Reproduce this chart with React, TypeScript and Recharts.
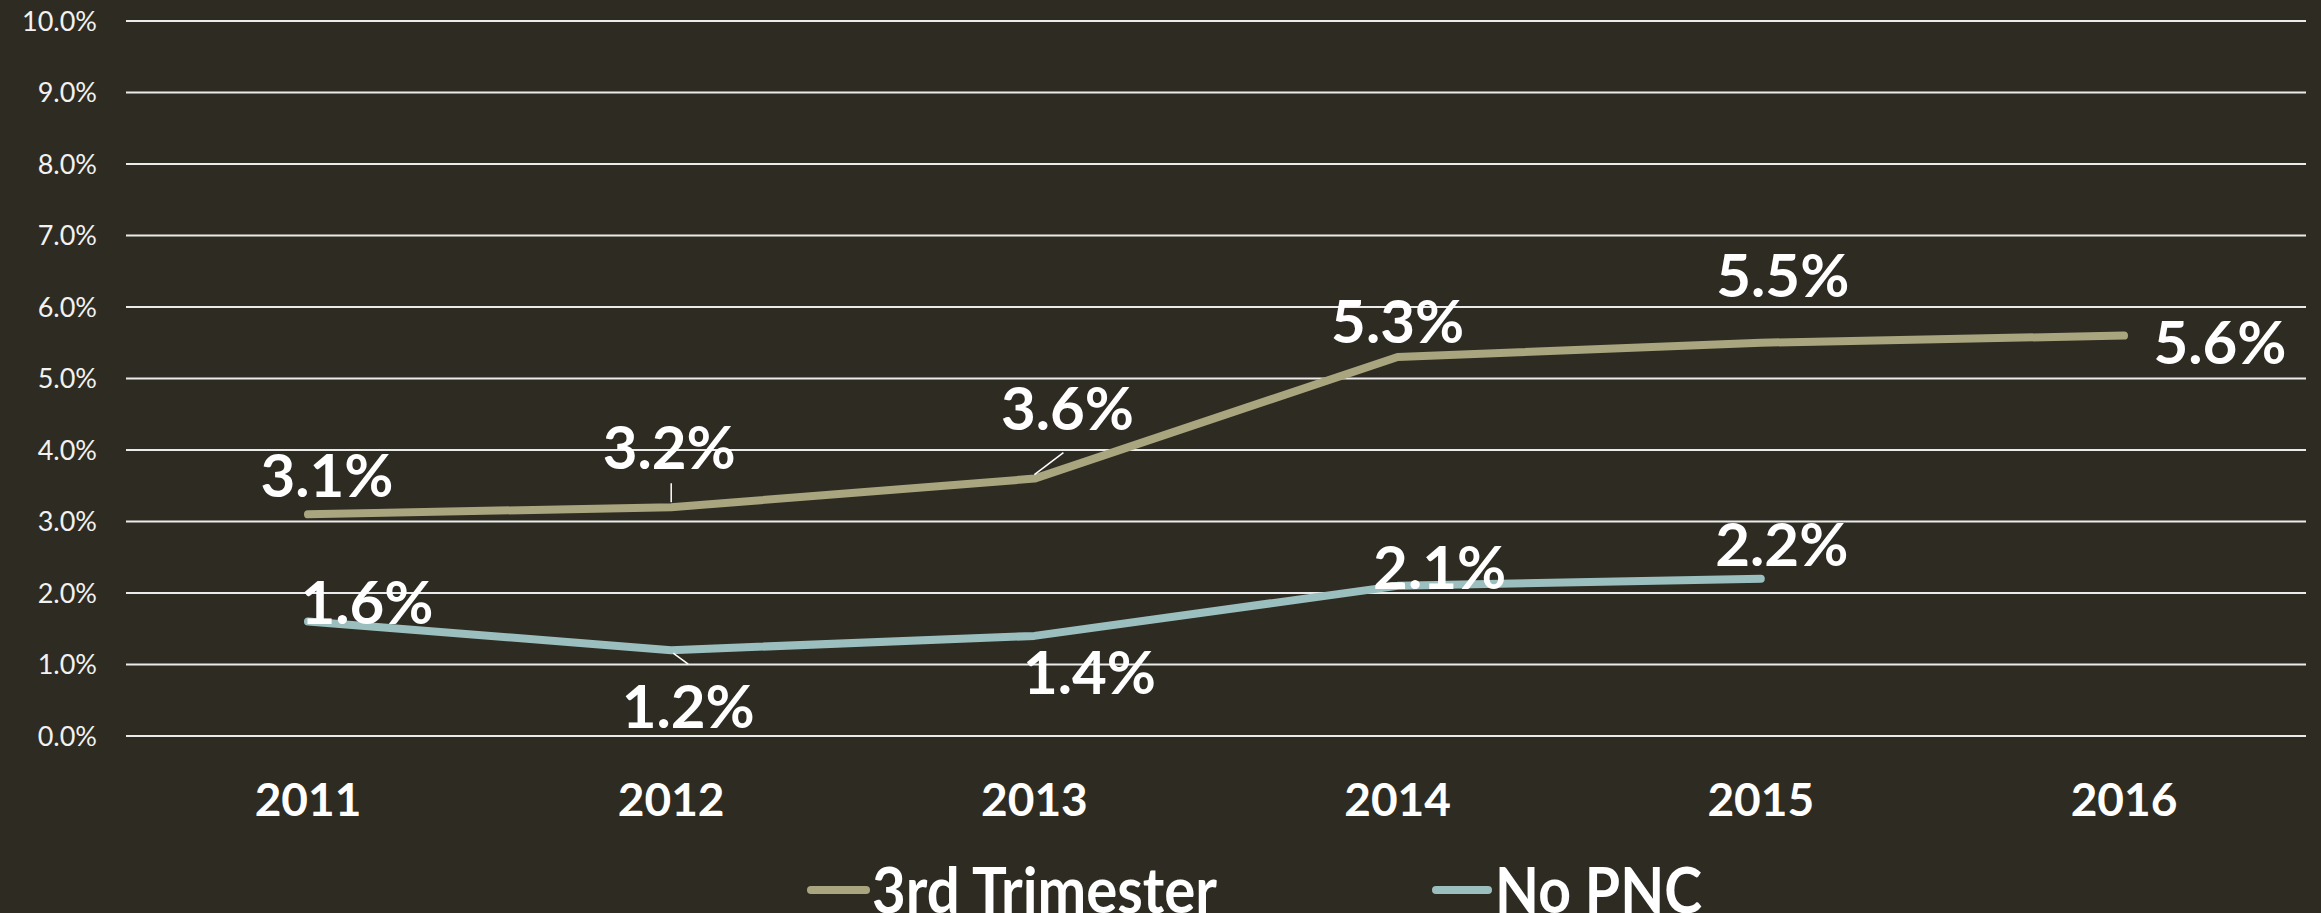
import React from 'react';
import { LineChart, Line, XAxis, YAxis, CartesianGrid, Legend, LabelList } from 'recharts';

const years = ['2011', '2012', '2013', '2014', '2015', '2016'];
const thirdTrimester = [3.1, 3.2, 3.6, 5.3, 5.5, 5.6];
const noPnc: (number | null)[] = [1.6, 1.2, 1.4, 2.1, 2.2, null];
const yTicks = [0, 1, 2, 3, 4, 5, 6, 7, 8, 9, 10];
const seriesNames = ['3rd Trimester', 'No PNC'];

const data = years.map((year, i) => ({ year, third: thirdTrimester[i], nopnc: noPnc[i] }));

const BG = '#2e2c22';
const C_THIRD = '#a9a67f';
const C_NOPNC = '#9bbfbf';
const FONT = 'Lato, "Noto Sans", sans-serif';

// label placement (styling): text centre offset from point, optional leader line
const thirdOffsets = [[19, -40], [-2, -61], [33, -72], [0, -37], [22, -69], [96, 5]];
const thirdLeaders: (number[] | null)[] = [null, [0, -5, 0, -24], [0, -4, 29, -26], null, null, null];
const nopncOffsets = [[59, -21], [17, 55], [55, 35], [42, -20], [21, -36], [0, 0]];
const nopncLeaders: (number[] | null)[] = [null, [2, 3, 17, 14], null, null, null, null];

const makeLabel = (offsets: number[][], leaders: (number[] | null)[]) => (props: any) => {
  const { x, y, value, index } = props;
  if (value === null || value === undefined) return null;
  const [dx, dy] = offsets[index];
  const ld = leaders[index];
  return (
    <g>
      {ld && (
        <line x1={x + ld[0]} y1={y + ld[1]} x2={x + ld[2]} y2={y + ld[3]} stroke="#ffffff" strokeWidth={1.5} />
      )}
      <text
        x={x + dx}
        y={y + dy}
        textAnchor="middle"
        dominantBaseline="central"
        fill="#ffffff"
        fontSize={60}
        fontWeight={700}
        fontFamily={FONT}
      >
        {Number(value).toFixed(1)}%
      </text>
    </g>
  );
};

const renderLegend = () => (
  <svg width={2306} height={60} style={{ display: 'block', overflow: 'visible' }}>
    <line x1={811} y1={37} x2={866} y2={37} stroke={C_THIRD} strokeWidth={8} strokeLinecap="round" />
    <text x={872} y={60} fill="#ffffff" fontSize={64} fontWeight={700} fontFamily={FONT}
      textLength={345} lengthAdjust="spacingAndGlyphs">{seriesNames[0]}</text>
    <line x1={1436} y1={37} x2={1488} y2={37} stroke={C_NOPNC} strokeWidth={8} strokeLinecap="round" />
    <text x={1495} y={60} fill="#ffffff" fontSize={64} fontWeight={700} fontFamily={FONT}
      textLength={207} lengthAdjust="spacingAndGlyphs">{seriesNames[1]}</text>
  </svg>
);

export default function App() {
  return (
    <div style={{ position: 'fixed', left: 0, top: 0, width: 2321, height: 913, background: BG, overflow: 'hidden' }}>
      <LineChart width={2321} height={913} data={data} margin={{ top: 21, right: 15, left: 0, bottom: 0 }}>
        <CartesianGrid vertical={false} stroke="#ebebeb" strokeWidth={2} />
        <XAxis
          dataKey="year"
          padding={{ left: 182, right: 182 }}
          height={117}
          axisLine={false}
          tickLine={false}
          tickSize={0}
          tickMargin={47}
          tick={{ fill: '#ffffff', fontSize: 46, fontWeight: 700, fontFamily: FONT }}
          interval={0}
        />
        <YAxis
          domain={[0, 10]}
          ticks={yTicks}
          width={126}
          axisLine={false}
          tickLine={false}
          tickSize={0}
          tickMargin={29}
          tickFormatter={(v: number) => `${v.toFixed(1)}%`}
          tick={{ fill: '#f2f2f2', fontSize: 27, fontFamily: FONT }}
          interval={0}
        />
        <Legend
          verticalAlign="bottom"
          align="left"
          content={renderLegend}
          wrapperStyle={{ margin: 0, padding: 0, height: 60 }}
        />
        <Line
          type="linear"
          dataKey="third"
          name={seriesNames[0]}
          stroke={C_THIRD}
          strokeWidth={8}
          strokeLinecap="round"
          strokeLinejoin="round"
          dot={false}
          activeDot={false}
          isAnimationActive={false}
        >
          <LabelList dataKey="third" content={makeLabel(thirdOffsets, thirdLeaders)} />
        </Line>
        <Line
          type="linear"
          dataKey="nopnc"
          name={seriesNames[1]}
          stroke={C_NOPNC}
          strokeWidth={8}
          strokeLinecap="round"
          strokeLinejoin="round"
          dot={false}
          activeDot={false}
          isAnimationActive={false}
        >
          <LabelList dataKey="nopnc" content={makeLabel(nopncOffsets, nopncLeaders)} />
        </Line>
      </LineChart>
    </div>
  );
}
